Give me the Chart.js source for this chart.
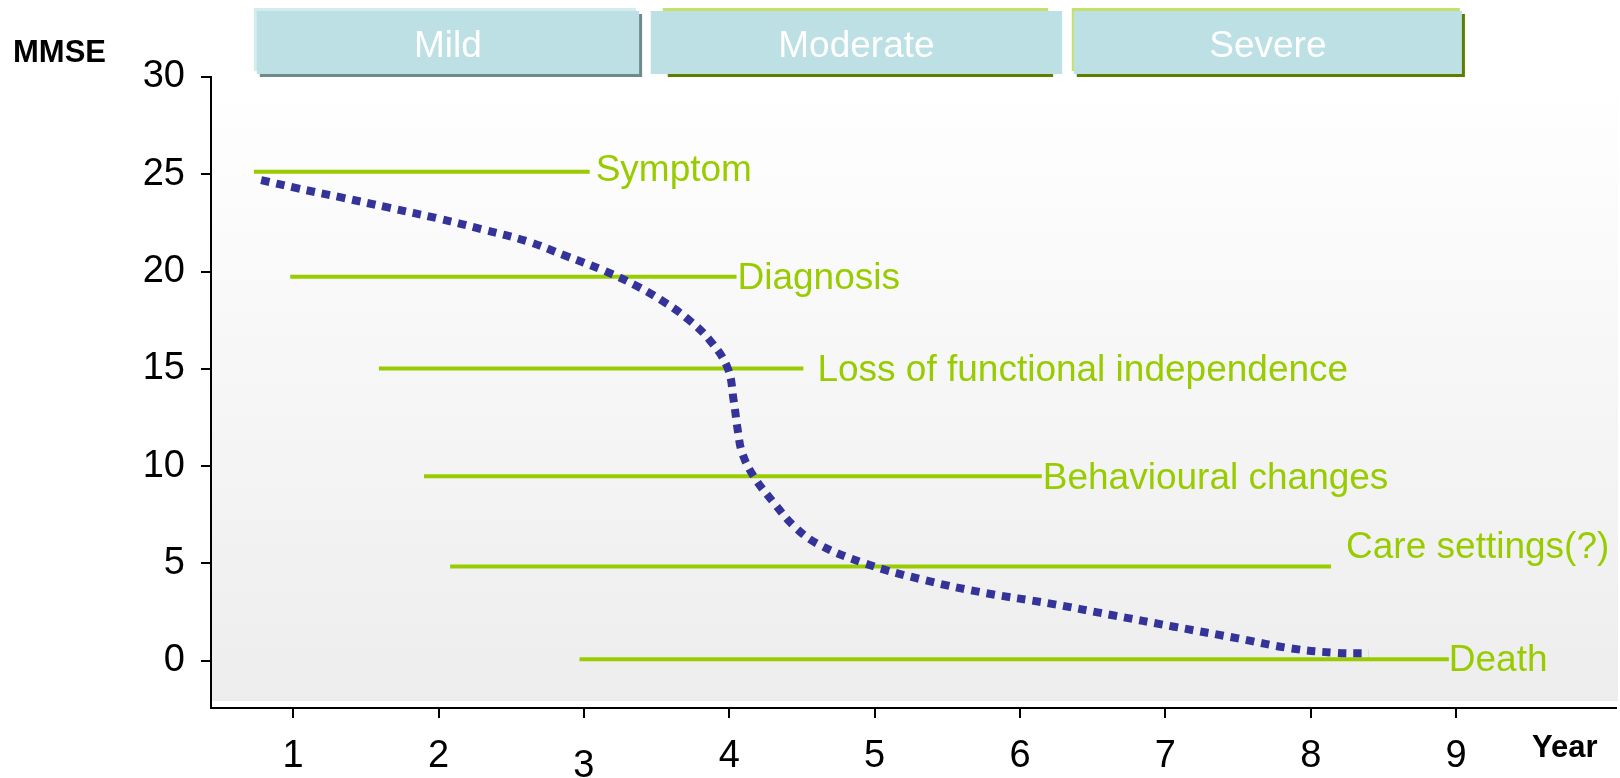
<!DOCTYPE html>
<html>
<head>
<meta charset="utf-8">
<script src="https://cdn.jsdelivr.net/npm/chart.js@4.4.0/dist/chart.umd.min.js"></script>
<style>
  html, body { margin: 0; padding: 0; background: #fff; }
</style>
</head>
<body>
<canvas id="graph" width="1620" height="778"></canvas>
<script>
const years = [1, 2, 3, 4, 5, 6, 7, 8, 9]
const mmseTicks = [0, 5, 10, 15, 20, 25, 30]

// dotted MMSE decline curve (year, score)
const curveYear = [0.78, 1.01, 1.33, 1.66, 1.99, 2.30, 2.62, 2.86, 3.14, 3.35, 3.53, 3.71, 3.87, 3.99, 4.03, 4.06, 4.09, 4.17, 4.31, 4.45, 4.61, 4.93, 5.34, 5.77, 6.20, 6.63, 7.06, 7.50, 7.86, 8.17, 8.40]
const curveMmse = [24.70, 24.31, 23.81, 23.28, 22.74, 22.17, 21.53, 20.85, 20.04, 19.31, 18.54, 17.59, 16.43, 15.02, 13.39, 11.77, 10.65, 9.45, 8.08, 6.88, 5.99, 5.00, 4.14, 3.46, 2.94, 2.34, 1.74, 1.14, 0.63, 0.40, 0.37]

// milestone bars
const events = ['Symptom', 'Diagnosis', 'Loss of functional independence', 'Behavioural changes', 'Care settings(?)', 'Death']
const eventStart = [0.73, 0.98, 1.59, 1.90, 2.08, 2.97]
const eventEnd = [3.04, 4.05, 4.51, 6.15, 8.14, 8.95]
const eventMmse = [25.13, 19.73, 15.02, 9.47, 4.83, 0.07]

// stages on top
const stages = ['Mild', 'Moderate', 'Severe']
const stageStart = [0.75, 3.46, 6.37]
const stageEnd = [3.38, 6.29, 9.04]

const green = '#99cc00'
const blue = '#333399'
const font = '"Liberation Sans", Arial, sans-serif'
Chart.defaults.font.family = font

// label nudges from the end of each bar
const labelShift = [[6, -0.5], [1, 2.5], [14, 2], [1, 2.5], [15, -18.5], [0, 1.5]]
// stage box edge colours: highlight / shadow and their offsets
const stageLook = [
  { hi: '#d5ebed', sh: '#6f8a8a', hl: -3, hr: -3, sl: 3, sr: 3 },
  { hi: '#c6e06c', sh: '#5e7e00', hl: 12, hr: -14, sl: 17, sr: -9 },
  { hi: '#c6e06c', sh: '#5e7e00', hl: -2, hr: -2, sl: 3, sr: 3 }
]

const backdrop = {
  id: 'backdrop',
  beforeDraw(chart) {
    const { ctx, chartArea: a } = chart
    const g = ctx.createLinearGradient(0, a.top, 0, a.bottom - 7)
    g.addColorStop(0, '#ffffff')
    g.addColorStop(1, '#ededed')
    ctx.save()
    ctx.fillStyle = g
    ctx.fillRect(a.left + 1, a.top, a.right - a.left + 1, a.bottom - a.top - 7)
    ctx.restore()
  }
}

const decorations = {
  id: 'decorations',
  afterDatasetsDraw(chart) {
    const { ctx, scales: { x, y } } = chart
    ctx.save()
    ctx.font = '37px ' + font
    ctx.fillStyle = green
    ctx.textBaseline = 'middle'
    ctx.textAlign = 'left'
    events.forEach((name, i) => {
      ctx.fillText(name, x.getPixelForValue(eventEnd[i]) + labelShift[i][0], y.getPixelForValue(eventMmse[i]) + labelShift[i][1])
    })

    // stage boxes
    const top = 11, bottom = 74
    stages.forEach((name, i) => {
      const l = x.getPixelForValue(stageStart[i])
      const r = x.getPixelForValue(stageEnd[i])
      const s = stageLook[i]
      ctx.fillStyle = s.hi
      ctx.fillRect(l + s.hl, top - 3, r - l - s.hl + s.hr, bottom - top)
      ctx.fillStyle = s.sh
      ctx.fillRect(l + s.sl, top + 3, r - l - s.sl + s.sr, bottom - top)
      ctx.fillStyle = '#bce0e3'
      ctx.fillRect(l, top, r - l, bottom - top)
      ctx.fillStyle = '#ffffff'
      ctx.textAlign = 'center'
      ctx.fillText(name, (l + r) / 2, (top + bottom) / 2 + 4)
    })

    ctx.fillStyle = '#000'
    ctx.font = 'bold 31px ' + font
    ctx.textAlign = 'left'
    ctx.fillText('MMSE', 13, 53)
    ctx.fillText('Year', 1532, 748)
    ctx.restore()
  }
}

const axisStyle = {
  grid: { drawOnChartArea: false, color: '#000', lineWidth: 2, tickLength: 10 },
  border: { color: '#000', width: 2 }
}

new Chart(document.getElementById('graph'), {
  type: 'line',
  data: {
    datasets: [
      {
        label: 'MMSE',
        data: curveYear.map((v, i) => ({ x: v, y: curveMmse[i] })),
        borderColor: blue,
        borderWidth: 8,
        borderDash: [8.5, 7],
        borderCapStyle: 'butt',
        pointRadius: 0,
        tension: 0.4,
        fill: false
      },
      ...events.map((name, i) => ({
        label: name,
        data: [{ x: eventStart[i], y: eventMmse[i] }, { x: eventEnd[i], y: eventMmse[i] }],
        borderColor: green,
        borderWidth: 4,
        pointRadius: 0,
        fill: false
      }))
    ]
  },
  options: {
    responsive: false,
    animation: false,
    layout: { padding: { top: 77, right: 4, left: 0, bottom: 0 } },
    plugins: { legend: { display: false }, tooltip: { enabled: false } },
    scales: {
      x: {
        type: 'linear',
        min: 0.435,
        max: 10.1,
        afterBuildTicks: s => { s.ticks = years.map(v => ({ value: v })) },
        afterFit: s => { s.height = 70 },
        ...axisStyle,
        ticks: {
          color: '#000',
          padding: 16,
          maxRotation: 0,
          autoSkip: false,
          font: c => ({ family: font, size: 38, lineHeight: c.tick && c.tick.value === 3 ? 1.72 : 1.2 })
        }
      },
      y: {
        type: 'linear',
        min: -2.44,
        max: 30,
        afterBuildTicks: s => { s.ticks = mmseTicks.map(v => ({ value: v })) },
        afterFit: s => { s.width = 211 },
        ...axisStyle,
        ticks: { color: '#000', padding: 16, font: { family: font, size: 38 } }
      }
    }
  },
  plugins: [backdrop, decorations]
})
</script>
</body>
</html>
